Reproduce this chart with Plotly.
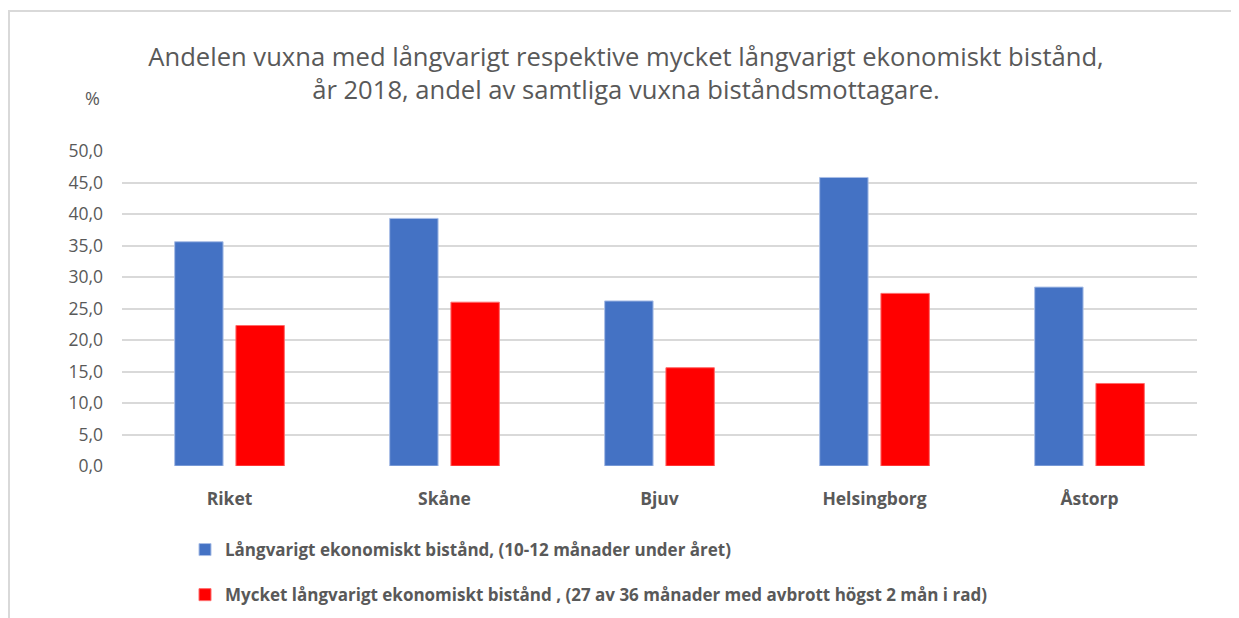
import plotly.graph_objects as go

categories = ["Riket", "Skåne", "Bjuv", "Helsingborg", "Åstorp"]
series_names = [
    "Långvarigt ekonomiskt bistånd, (10-12 månader under året)",
    "Mycket långvarigt ekonomiskt bistånd , (27 av 36 månader med avbrott högst 2 mån i rad)",
]
long_term = [35.6, 39.3, 26.2, 45.8, 28.4]
very_long_term = [22.3, 26.0, 15.6, 27.4, 13.1]
tick_vals = [0, 5, 10, 15, 20, 25, 30, 35, 40, 45, 50]
tick_text = ["0,0", "5,0", "10,0", "15,0", "20,0", "25,0", "30,0", "35,0", "40,0", "45,0", "50,0"]

# page is rendered with an 8px body margin; work in page coordinates
OFF = 8
PW, PH = 1239, 618
W, H = PW - OFF, PH - OFF
plot_left, plot_right, plot_top, plot_bottom = 122, 1197, 151, 466
L = plot_left - OFF
T = plot_top - OFF
R = W - (plot_right - OFF)
B = H - (plot_bottom - OFF)
pw, ph = plot_right - plot_left, plot_bottom - plot_top

def px(x):
    return (x - plot_left) / pw

def py(y):
    return (plot_bottom - y) / ph

FONT = "Open Sans"
GREY = "#595959"

fig = go.Figure()
fig.add_trace(go.Bar(
    x=categories, y=long_term, name=series_names[0],
    marker=dict(color="#4472C4", line=dict(color="#A9BEE6", width=1)),
    legendgroup="a",
))
fig.add_trace(go.Bar(
    x=categories, y=very_long_term, name=series_names[1],
    marker=dict(color="#FF0000", line=dict(color="#FF6A6A", width=1)),
    legendgroup="b",
))

fig.update_layout(
    width=W, height=H,
    margin=dict(l=L, r=R, t=T, b=B, autoexpand=False),
    paper_bgcolor="white", plot_bgcolor="white",
    barmode="group", bargap=0.43, bargroupgap=0.21,
    font=dict(family=FONT, color=GREY),
    title=dict(
        text="Andelen vuxna med långvarigt respektive mycket långvarigt ekonomiskt bistånd,<br>år 2018, andel av samtliga vuxna biståndsmottagare.",
        xref="container", yref="container",
        x=(626 - OFF) / W, xanchor="center", y=1 - (66 - OFF) / H, yanchor="top",
        font=dict(family=FONT, size=25.6, color=GREY),
    ),
    xaxis=dict(
        showgrid=False, showline=False, zeroline=False, ticks="",
        tickfont=dict(family=FONT, size=17.5, color=GREY, weight="bold"),
        ticklabelstandoff=20,
    ),
    yaxis=dict(
        range=[0, 50], tickvals=tick_vals, ticktext=tick_text,
        showgrid=True, gridcolor="#D9D9D9", gridwidth=1.5,
        zeroline=False, showline=False, ticks="",
        tickfont=dict(family=FONT, size=17.5, color=GREY),
        ticklabelstandoff=18,
    ),
    legend=dict(
        orientation="v", x=px(185), xanchor="left", y=py(532), yanchor="top",
        traceorder="grouped", tracegroupgap=20,
        font=dict(family=FONT, size=17, color=GREY, weight="bold"),
        itemwidth=30, bgcolor="rgba(0,0,0,0)",
    ),
    annotations=[dict(
        text="%", xref="paper", yref="paper", x=px(92), y=py(98),
        xanchor="center", yanchor="middle", showarrow=False,
        font=dict(family=FONT, size=18, color=GREY),
    )],
    shapes=[
        dict(type="line", xref="paper", yref="paper", x0=px(OFF), x1=px(PW), y0=py(11), y1=py(11),
             line=dict(color="#D9D9D9", width=2)),
        dict(type="line", xref="paper", yref="paper", x0=px(OFF + 1), x1=px(OFF + 1), y0=py(11), y1=py(PH),
             line=dict(color="#D9D9D9", width=2)),
    ],
)

fig.write_html("out.html")
